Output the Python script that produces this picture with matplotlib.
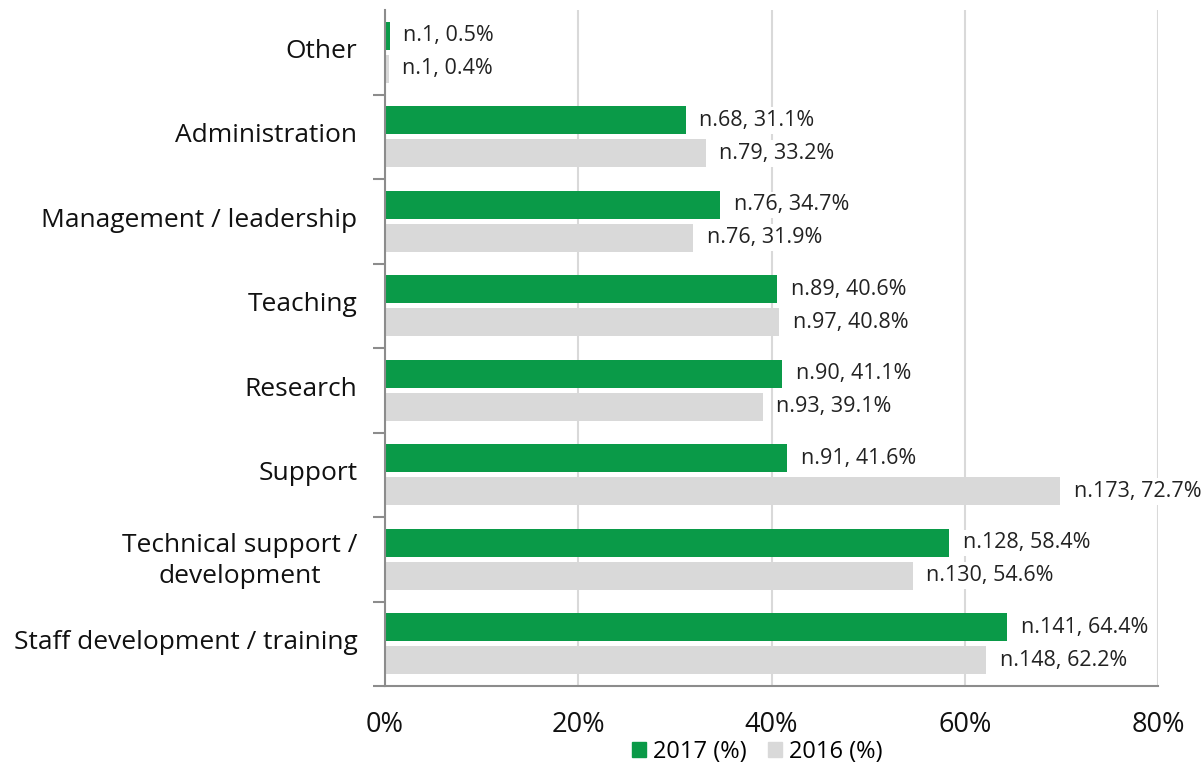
import numpy as np
import matplotlib.pyplot as plt
import matplotlib.transforms as mtransforms
from matplotlib.patches import Patch

plt.rcParams['font.family'] = ['Open Sans', 'DejaVu Sans']

# categories listed bottom to top
categories = ['Staff development / training', 'Technical support /\ndevelopment',
              'Support', 'Research', 'Teaching', 'Management / leadership',
              'Administration', 'Other']
pct_2017 = [64.4, 58.4, 41.6, 41.1, 40.6, 34.7, 31.1, 0.5]
n_2017 = [141, 128, 91, 90, 89, 76, 68, 1]
# bar lengths as drawn in the source (Support 2016 bar is drawn shorter than its label)
bar_2016 = [62.2, 54.6, 69.9, 39.1, 40.8, 31.9, 33.2, 0.4]
pct_2016 = [62.2, 54.6, 72.7, 39.1, 40.8, 31.9, 33.2, 0.4]
n_2016 = [148, 130, 173, 93, 97, 76, 79, 1]
xticks = [0, 20, 40, 60, 80]

green = '#0a9a48'
grey = '#d9d9d9'
axis_col = '#8c8c8c'

fig = plt.figure(figsize=(12.04, 7.69), dpi=100)
ax = fig.add_axes([0.3198, 0.1079, 0.642, 0.879])

y = np.arange(len(categories))
off = 0.195
h = 0.33

ax.barh(y + off, pct_2017, height=h, color=green, zorder=2)
ax.barh(y - off, bar_2016, height=h, color=grey, zorder=2)

bbox = dict(facecolor='white', edgecolor='none', pad=2)
for i in range(len(categories)):
    ax.text(pct_2017[i] + 1.4, y[i] + off, f'n.{n_2017[i]}, {pct_2017[i]}%',
            va='center', ha='left', fontsize=15.5, color='#222222', bbox=bbox, zorder=3)
    ax.text(bar_2016[i] + 1.4, y[i] - off, f'n.{n_2016[i]}, {pct_2016[i]}%',
            va='center', ha='left', fontsize=15.5, color='#222222', bbox=bbox, zorder=3)

ax.set_xlim(0, 80)
ax.set_ylim(-0.5, len(categories) - 0.5)
ax.set_xticks(xticks)
ax.set_xticklabels([f'{t}%' for t in xticks], fontsize=19.5, color='#111111')
ax.tick_params(axis='x', length=0, pad=18)

ax.set_yticks(y)
ax.set_yticklabels(categories, fontsize=19, color='#111111', multialignment='center',
                   linespacing=1.3)
ax.tick_params(axis='y', which='major', length=0, pad=20)
ax.set_yticks(np.arange(-0.5, len(categories) - 1), minor=True)
ax.tick_params(axis='y', which='minor', length=9, width=1.5, color=axis_col, direction='out')

# nudge category labels up a little
shift = mtransforms.ScaledTranslation(0, 3 / 72, fig.dpi_scale_trans)
for lab in ax.get_yticklabels():
    lab.set_transform(lab.get_transform() + shift)

ax.grid(axis='x', color=grey, linewidth=1.5, zorder=0)
ax.set_axisbelow(True)
for s in ['top', 'right']:
    ax.spines[s].set_visible(False)
for s in ['left', 'bottom']:
    ax.spines[s].set_color(axis_col)
    ax.spines[s].set_linewidth(1.5)

handles = [Patch(color=green, label='2017 (%)'), Patch(color=grey, label='2016 (%)')]
fig.legend(handles=handles, loc='center', bbox_to_anchor=(0.629, 0.022), ncol=2,
           frameon=False, fontsize=17, handlelength=0.6, handleheight=0.6,
           handletextpad=0.3, columnspacing=0.9, borderpad=0)

fig.savefig('out.png', dpi=100)
